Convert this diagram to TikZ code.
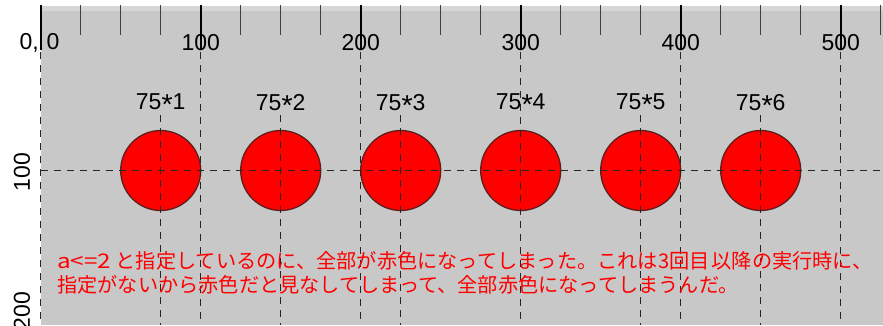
\documentclass[tikz,border=0pt]{standalone}
\usepackage{fontspec}
\setmainfont{Liberation Sans}
\newfontfamily\jp{Noto Sans CJK JP}
\definecolor{bg}{RGB}{200,200,200}
\definecolor{bgtop}{RGB}{214,214,214}
\definecolor{rim}{RGB}{95,30,30}
\newcommand{\myast}{\raisebox{-0.22em}{\scalebox{1.25}{*}}}
\begin{document}
\begin{tikzpicture}[x=1pt,y=-1pt,
  gridline/.style={draw=black!85, line width=0.9pt, dash pattern=on 7pt off 6pt},
  minortick/.style={draw=black!75, line width=1.1pt},
  majortick/.style={draw=black, line width=1.6pt},
  lbl/.style={font=\fontsize{23}{23}\selectfont, text=black, inner sep=0pt},
  ball/.style={circle, draw=rim, line width=1.3pt, fill=red, minimum size=80pt, inner sep=0pt},
  note/.style={font=\jp\fontsize{20.2}{24}\selectfont, text=red, inner sep=0pt, anchor=base west}]
\useasboundingbox (0,0) rectangle (883,325);
% background
\fill[bg] (40.7,6) rectangle (883,325);
\fill[bgtop] (40.7,6) rectangle (883,11);
% circles
\foreach \k in {1,...,6}{
  \node[ball] (b\k) at ({40.7+120*\k},170.5) {};
}
% grid lines
\foreach \i in {0,...,5}{
  \draw[gridline] ({40.7+160*\i},52) -- ({40.7+160*\i},325);
}
\foreach \k in {1,2,3,5,6}{
  \draw[gridline] ({40.7+120*\k},115) -- ({40.7+120*\k},325);
}
\draw[gridline] (40.7,170.5) -- (883,170.5);
% ruler ticks
\foreach \i in {0,...,21}{
  \draw[minortick] ({40.7+40*\i},5) -- ++(0,30);
}
\foreach \i in {0,...,5}{
  \draw[majortick] ({40.7+160*\i},5) -- ++(0,45);
}
% ruler labels
\node[lbl] (o) at (39.5,42.5) {0,\hspace{8pt}0};
\foreach \i in {1,...,5}{
  \node[lbl] (t\i) at ({40.7+160*\i},42.5) {\i00};
}
\node[lbl, rotate=90] (v1) at (22,172) {100};
\node[lbl, rotate=90] (v2) at (22,311) {200};
% ball labels
\foreach \k in {1,...,6}{
  \node[lbl] (l\k) at ({40.7+120*\k},104.5) {75\myast\k};
}
% note
\node[note] (n1) at (57,268.5) {\scalebox{1.2}[1]{a<=2} と指定しているのに、全部が赤色になってしまった。これは3回目\hspace{2pt}以降の実行時に、};
\node[note] (n2) at (57,292) {指定がないから赤色だと見なしてしまって、全部赤色になってしまうんだ。};
\end{tikzpicture}
\end{document}
